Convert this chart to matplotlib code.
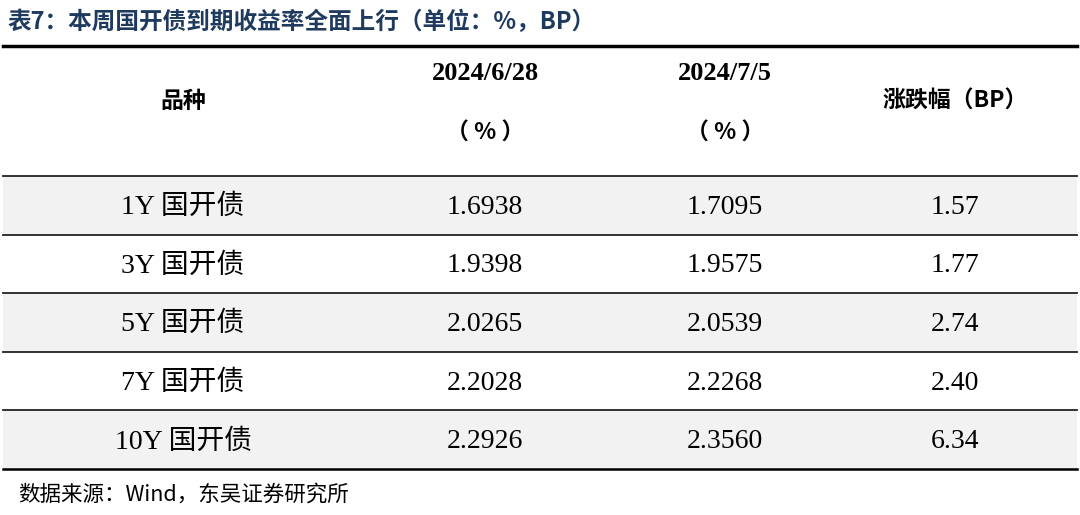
import matplotlib.pyplot as plt
from matplotlib.patches import Rectangle

plt.rcParams['font.family'] = ['Liberation Serif', 'Noto Sans CJK SC', 'DejaVu Sans']

title = "表7：本周国开债到期收益率全面上行（单位：%，BP）"
source = "数据来源：Wind，东吴证券研究所"
varieties = ["1Y 国开债", "3Y 国开债", "5Y 国开债", "7Y 国开债", "10Y 国开债"]
yield_0628 = ["1.6938", "1.9398", "2.0265", "2.2028", "2.2926"]
yield_0705 = ["1.7095", "1.9575", "2.0539", "2.2268", "2.3560"]
change_bp = ["1.57", "1.77", "2.74", "2.40", "6.34"]

W, H = 1080, 515
fig = plt.figure(figsize=(W / 100, H / 100), dpi=100)
ax = fig.add_axes([0, 0, 1, 1])
ax.set_xlim(0, W)
ax.set_ylim(H, 0)
ax.axis("off")

navy = "#1f3a5f"
x0, x1 = 3, 1077
cols = [183, 485, 725, 955]
cjk = ['Noto Sans CJK SC', 'Liberation Serif']

ax.text(8, 22, title, fontsize=17, color=navy, fontweight="bold", va="center", family=cjk)
ax.plot([x0, x1], [46, 46], color="black", lw=2.5)

# header
ax.text(cols[0], 101, "品种", fontsize=16.5, fontweight="bold", ha="center", va="center", family=cjk)
ax.text(cols[1], 73, "2024/6/28", fontsize=19, fontweight="bold", ha="center", va="center")
ax.text(cols[1], 133, "（ % ）", fontsize=16.5, fontweight="bold", ha="center", va="center", family=cjk)
ax.text(cols[2], 73, "2024/7/5", fontsize=19, fontweight="bold", ha="center", va="center")
ax.text(cols[2], 133, "（ % ）", fontsize=16.5, fontweight="bold", ha="center", va="center", family=cjk)
ax.text(cols[3], 101, "涨跌幅（BP）", fontsize=16.5, fontweight="bold", ha="center", va="center", family=cjk)

top, rh = 176, 58.6
for i, row in enumerate(zip(varieties, yield_0628, yield_0705, change_bp)):
    y = top + i * rh
    if i % 2 == 0:
        ax.add_patch(Rectangle((x0, y), x1 - x0, rh, color="#f2f2f2", lw=0))
    ax.plot([x0, x1], [y, y], color="#222222", lw=1.3)
    for c, txt in zip(cols, row):
        ax.text(c, y + rh / 2 + 2, txt, fontsize=20, ha="center", va="center")
ax.plot([x0, x1], [top + 5 * rh, top + 5 * rh], color="black", lw=1.8)

ax.text(18, 495, source, fontsize=15.5, va="center", family=cjk)

fig.savefig("out.png", dpi=100)
